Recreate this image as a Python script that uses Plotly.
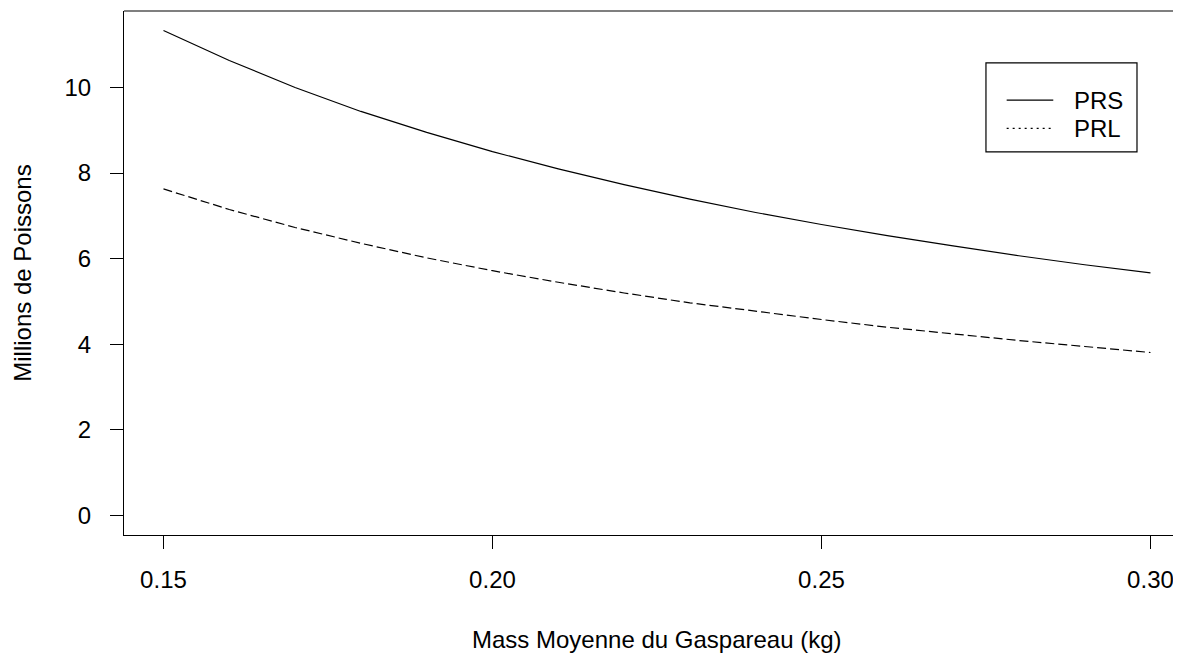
import plotly.graph_objects as go

# Data
mass_kg = [0.15, 0.16, 0.17, 0.18, 0.19, 0.20, 0.21, 0.22, 0.23, 0.24,
           0.25, 0.26, 0.27, 0.28, 0.29, 0.30]
prs = [11.33, 10.63, 10.00, 9.44, 8.95, 8.50, 8.10, 7.73, 7.39, 7.08,
       6.80, 6.54, 6.30, 6.07, 5.86, 5.67]
prl = [7.63, 7.15, 6.73, 6.36, 6.02, 5.72, 5.45, 5.20, 4.97, 4.77,
       4.58, 4.40, 4.24, 4.09, 3.95, 3.81]
x_ticks = [0.15, 0.20, 0.25, 0.30]
x_tick_labels = ["0.15", "0.20", "0.25", "0.30"]
y_ticks = [0, 2, 4, 6, 8, 10]
series_names = ["PRS", "PRL"]

FONT = "Liberation Sans, Arial, sans-serif"
FS = 24
LW = 1.2

# page offset (body margin) and plot-area geometry in page pixels
OFF = 8
PL, PR, PT, PB = 124.2, 1181.0, 10.7, 535.4


def xp(px):
    return (px - PL) / (PR - PL)


def yp(py):
    return 1 - (py - PT) / (PB - PT)


fig = go.Figure()
fig.add_trace(go.Scatter(x=mass_kg, y=prs, mode="lines", showlegend=False,
                         name=series_names[0],
                         line=dict(color="black", width=LW)))
fig.add_trace(go.Scatter(x=mass_kg, y=prl, mode="lines", showlegend=False,
                         name=series_names[1],
                         line=dict(color="black", width=LW, dash="9px,4px")))

W, H = 1181 - OFF, 654 - OFF
shapes = [
    # top border of the box
    dict(type="line", xref="paper", yref="paper", x0=0, x1=1, y0=1, y1=1,
         line=dict(color="black", width=LW)),
    # legend box
    dict(type="rect", xref="paper", yref="paper",
         x0=xp(986), x1=xp(1137), y0=yp(62.7), y1=yp(151.7),
         line=dict(color="black", width=LW), fillcolor="white"),
    # legend samples
    dict(type="line", xref="paper", yref="paper",
         x0=xp(1006.7), x1=xp(1053.3), y0=yp(100), y1=yp(100),
         line=dict(color="black", width=LW)),
    dict(type="line", xref="paper", yref="paper",
         x0=xp(1006.7), x1=xp(1053.3), y0=yp(128.3), y1=yp(128.3),
         line=dict(color="black", width=LW, dash="2px,4px")),
]

annotations = [
    dict(text="Mass Moyenne du Gaspareau (kg)", xref="x", yref="paper",
         x=0.225, y=yp(640), xanchor="center", yanchor="middle",
         showarrow=False, font=dict(family=FONT, size=FS)),
    dict(text="Millions de Poissons", xref="paper", yref="y",
         x=xp(23), y=5.667, xanchor="center", yanchor="middle",
         textangle=-90, showarrow=False, font=dict(family=FONT, size=FS)),
    dict(text=series_names[0], xref="paper", yref="paper",
         x=xp(1072), y=yp(100), xanchor="left", yanchor="middle",
         showarrow=False, font=dict(family=FONT, size=FS)),
    dict(text=series_names[1], xref="paper", yref="paper",
         x=xp(1072), y=yp(128.3), xanchor="left", yanchor="middle",
         showarrow=False, font=dict(family=FONT, size=FS)),
]

fig.update_layout(
    width=W, height=H,
    margin=dict(l=PL - OFF, r=0, t=PT - OFF, b=654 - PB, autoexpand=False),
    paper_bgcolor="white", plot_bgcolor="white",
    showlegend=False,
    font=dict(family=FONT, size=FS, color="black"),
    xaxis=dict(range=[0.144, 0.30464], showgrid=False, zeroline=False,
               showline=True, linecolor="black", linewidth=LW,
               ticks="outside", ticklen=13, tickcolor="black", tickwidth=LW,
               tickvals=x_ticks, ticktext=x_tick_labels, ticklabelstandoff=10),
    yaxis=dict(range=[-0.453, 11.786], showgrid=False, zeroline=False,
               showline=True, linecolor="black", linewidth=LW,
               ticks="outside", ticklen=13, tickcolor="black", tickwidth=LW,
               tickvals=y_ticks, ticklabelstandoff=14),
    shapes=shapes,
    annotations=annotations,
)

fig.write_html("out.html")
